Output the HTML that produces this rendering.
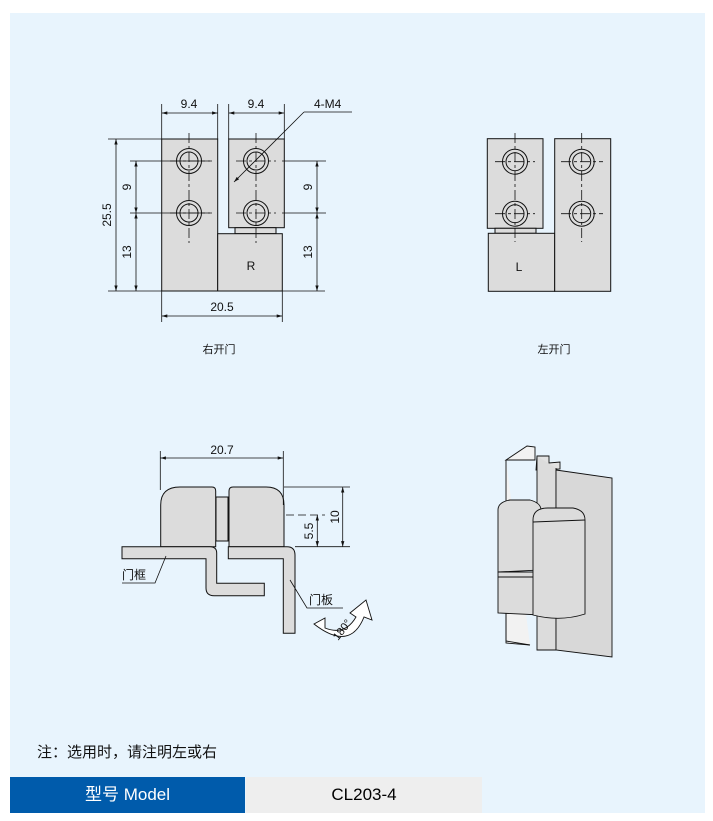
<!DOCTYPE html>
<html><head><meta charset="utf-8"><style>
html,body{margin:0;padding:0;background:#fff;}
body{width:713px;height:821px;position:relative;overflow:hidden;font-family:"Liberation Sans","Noto Sans CJK SC",sans-serif;}
#panel{position:absolute;left:10px;top:13px;width:695px;height:800px;background:#e8f4fd;}
svg{position:absolute;left:0;top:0;}
.note{position:absolute;left:37px;top:741px;font-size:15px;color:#111;}
.th{position:absolute;left:10px;top:777px;width:235px;height:36px;background:#005bab;color:#fff;font-size:17px;line-height:36px;text-align:center;}
.td{position:absolute;left:246px;top:777px;width:236px;height:36px;background:#eeeeee;color:#000;font-size:17px;line-height:36px;text-align:center;}
</style></head><body>
<div id="panel"></div>
<svg width="713" height="821" viewBox="0 0 713 821" font-family="Liberation Sans, Noto Sans CJK SC, sans-serif" font-size="12" fill="none" stroke="#111" stroke-width="1">
<defs>
<marker id="a" viewBox="0 0 10 10" refX="10" refY="5" markerWidth="7" markerHeight="7" orient="auto-start-reverse"><path d="M0,2 L10,5 L0,8 z" fill="#111" stroke="none"/></marker>
<g id="hole"><circle r="12.5" fill="#dcdcdc"/><circle r="9"/></g>
</defs>
<!-- Right-open -->
<g fill="#dcdcdc">
<rect x="161.7" y="139" width="56" height="152"/>
<rect x="228.7" y="139" width="55.6" height="88.7"/>
<rect x="235" y="227.7" width="41" height="6"/>
<rect x="217.7" y="233.7" width="64.6" height="57.3"/>
</g>
<use href="#hole" x="189" y="161"/><use href="#hole" x="189" y="213"/>
<use href="#hole" x="256" y="161"/><use href="#hole" x="256" y="213"/>
<g stroke-dasharray="10,3,3,3" stroke-width="0.8">
<line x1="189" y1="133" x2="189" y2="243"/><line x1="256" y1="133" x2="256" y2="243"/>
<line x1="170" y1="161" x2="210" y2="161"/><line x1="170" y1="213" x2="210" y2="213"/>
<line x1="236" y1="161" x2="276" y2="161"/><line x1="236" y1="213" x2="276" y2="213"/>
</g>
<g stroke-width="0.8">
<line x1="161.7" y1="104" x2="161.7" y2="139"/><line x1="217.7" y1="104" x2="217.7" y2="139"/>
<line x1="228.7" y1="104" x2="228.7" y2="139"/><line x1="284.3" y1="104" x2="284.3" y2="139"/>
<line x1="161.7" y1="113" x2="217.7" y2="113" marker-start="url(#a)" marker-end="url(#a)"/>
<line x1="228.7" y1="113" x2="284.3" y2="113" marker-start="url(#a)" marker-end="url(#a)"/>
<line x1="234" y1="182" x2="304" y2="112" marker-start="url(#a)"/><line x1="304" y1="112" x2="352" y2="112"/>
<line x1="108" y1="139" x2="161.7" y2="139"/><line x1="108" y1="291" x2="325" y2="291"/>
<line x1="130" y1="161" x2="212" y2="161"/><line x1="130" y1="213" x2="212" y2="213"/>
<line x1="116" y1="139" x2="116" y2="291" marker-start="url(#a)" marker-end="url(#a)"/>
<line x1="136" y1="161" x2="136" y2="213" marker-start="url(#a)" marker-end="url(#a)"/>
<line x1="136" y1="213" x2="136" y2="291" marker-start="url(#a)" marker-end="url(#a)"/>
<line x1="282" y1="161" x2="326" y2="161"/><line x1="282" y1="213" x2="326" y2="213"/>
<line x1="317" y1="161" x2="317" y2="213" marker-start="url(#a)" marker-end="url(#a)"/>
<line x1="317" y1="213" x2="317" y2="291" marker-start="url(#a)" marker-end="url(#a)"/>
<line x1="161.7" y1="291" x2="161.7" y2="322"/><line x1="282.3" y1="291" x2="282.3" y2="322"/>
<line x1="161.7" y1="316" x2="282.3" y2="316" marker-start="url(#a)" marker-end="url(#a)"/>
</g>
<g fill="#111" stroke="none">
<text x="189" y="108" text-anchor="middle">9.4</text>
<text x="256" y="108" text-anchor="middle">9.4</text>
<text x="314" y="108">4-M4</text>
<text x="251" y="270" text-anchor="middle">R</text>
<text x="222" y="311" text-anchor="middle">20.5</text>
<text transform="translate(111,215) rotate(-90)" text-anchor="middle">25.5</text>
<text transform="translate(131,187) rotate(-90)" text-anchor="middle">9</text>
<text transform="translate(131,252) rotate(-90)" text-anchor="middle">13</text>
<text transform="translate(312,187) rotate(-90)" text-anchor="middle">9</text>
<text transform="translate(312,252) rotate(-90)" text-anchor="middle">13</text>
<text x="219" y="353" text-anchor="middle" font-size="11">右开门</text>
<text x="554" y="353" text-anchor="middle" font-size="11">左开门</text>
</g>
<!-- Left-open -->
<g fill="#dcdcdc">
<rect x="487.3" y="138.7" width="55.7" height="89.6"/>
<rect x="495" y="228.3" width="41" height="5"/>
<rect x="488.3" y="233.3" width="66.4" height="58"/>
<rect x="554.7" y="138.7" width="56" height="152.6"/>
</g>
<use href="#hole" x="515" y="161.7"/><use href="#hole" x="515" y="213.7"/>
<use href="#hole" x="581.7" y="161.7"/><use href="#hole" x="581.7" y="213.7"/>
<g stroke-dasharray="10,3,3,3" stroke-width="0.8">
<line x1="515" y1="133" x2="515" y2="242"/><line x1="581.7" y1="133" x2="581.7" y2="242"/>
<line x1="495" y1="161.7" x2="535" y2="161.7"/><line x1="495" y1="213.7" x2="535" y2="213.7"/>
<line x1="561" y1="161.7" x2="603" y2="161.7"/><line x1="561" y1="213.7" x2="603" y2="213.7"/>
</g>
<text x="519" y="271" fill="#111" stroke="none" text-anchor="middle">L</text>
<!-- Side view -->
<g fill="#dcdcdc">
<path d="M160.7,546.7 V505 Q160.7,487 180,487 H212 Q215.7,487 215.7,491 V546.7 Z"/>
<rect x="216" y="497" width="12" height="44"/>
<path d="M229,546.7 V491 Q229,487 233,487 H266 Q284,487 284,505 V546.7 Z"/>
<path d="M122,546.7 H210 Q216.7,546.7 216.7,553 V583.3 H264.3 V595.7 H214 Q206,595.7 206,588 V558.7 H122 Z"/>
<path d="M228.3,546.7 H287 Q295,546.7 295,555 V633.3 H283.3 V558.7 H228.3 Z"/>
</g>
<g stroke-width="0.8">
<line x1="160.3" y1="451" x2="160.3" y2="490"/><line x1="283.3" y1="451" x2="283.3" y2="505"/>
<line x1="160.3" y1="458" x2="283.3" y2="458" marker-start="url(#a)" marker-end="url(#a)"/>
<line x1="284" y1="487" x2="350" y2="487"/><line x1="295" y1="546.7" x2="350" y2="546.7"/>
<line x1="286" y1="515" x2="325" y2="515" stroke-dasharray="8,4"/>
<line x1="342.7" y1="487" x2="342.7" y2="546.7" marker-start="url(#a)" marker-end="url(#a)"/>
<line x1="317.3" y1="515" x2="317.3" y2="546.7" marker-start="url(#a)" marker-end="url(#a)"/>
<polyline points="122,583 155,583 166,556"/>
<polyline points="343,608 307,608 290,580"/>
</g>
<path d="M314,624 L325,618 L325,628 Q345,636 356,617 L350,613 L366,600 L372,620 L364,617 Q350,652 314,624 Z" fill="#fff" stroke-width="0.9"/>
<g fill="#111" stroke="none">
<text x="222" y="454" text-anchor="middle">20.7</text>
<text transform="translate(339,517) rotate(-90)" text-anchor="middle">10</text>
<text transform="translate(313,531) rotate(-90)" text-anchor="middle">5.5</text>
<text x="122" y="579" font-size="12">门框</text>
<text x="309" y="604" font-size="12">门板</text>
<text transform="translate(338,641) rotate(-52)" font-size="11">180°</text>
</g>
<!-- 3D hinge -->
<g stroke-width="0.9">
<path d="M506,460 L527,446 L535,447 L535,460 L506,460 Z M506,460 V643 L530,645" fill="#f2f2f2"/>
<path d="M537,456 L549,456 L549,463 L560,462 L560,469 L536,470 Z" fill="#e2e2e2"/>
<path d="M537,456 V650 L556,650 V468" fill="#dcdcdc"/>
<path d="M556,470 L612,478 V657 L556,650 Z" fill="#d8d8d8"/>
<path d="M498,510 Q498,502 510,500 L530,500 Q541,503 541,510 V570 L498,572 Z" fill="#dcdcdc"/>
<path d="M498,572 L541,572 V615 L498,613 Z" fill="#dcdcdc"/>
<line x1="498" y1="577" x2="541" y2="577"/>
<path d="M533,520 Q533,508 548,508 L573,508 Q585,510 585,520 V614 Q560,622 533,615 Z" fill="#dcdcdc"/>
<line x1="533" y1="522" x2="585" y2="520"/>
<path d="M506,613 V641 L530,645"/>
</g>
</svg>
<div class="note">注：选用时，请注明左或右</div>
<div class="th">型号 Model</div>
<div class="td">CL203-4</div>
</body></html>
